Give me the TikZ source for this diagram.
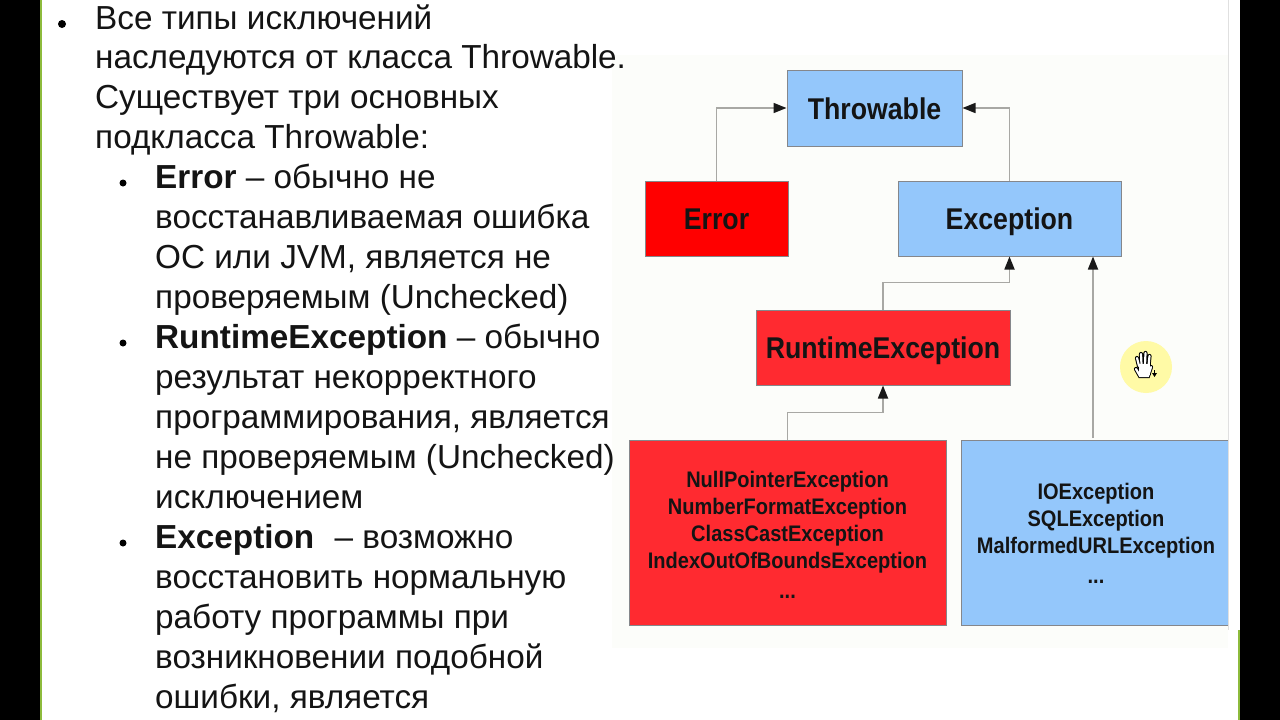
\documentclass[tikz,border=0pt]{standalone}
\usepackage{fontspec}
\setmainfont{Liberation Sans}
\newfontfamily\diagfont[FakeStretch=0.89]{Liberation Sans}
\usetikzlibrary{arrows.meta}
\definecolor{boxblue}{HTML}{94C7FB}
\definecolor{boxred}{HTML}{FF2A30}
\definecolor{pure}{HTML}{FF0000}
\definecolor{panel}{HTML}{FCFDFA}
\definecolor{edge}{HTML}{85878B}
\definecolor{wire}{HTML}{A8A8A4}
\definecolor{barg}{HTML}{8DBB3C}
\definecolor{ink}{HTML}{141414}
\tikzset{
  x=1pt,y=-1pt,
  txt/.style={anchor=base west,inner sep=0pt,yshift=-0.8pt,text=ink,font=\fontsize{33.3}{33.3}\selectfont},
  bigbox/.style={draw=edge,line width=1pt,inner sep=0pt,align=center,text=ink,text height=22pt,text depth=0pt,font=\diagfont\bfseries\fontsize{30}{30}\selectfont},
  grpbox/.style={draw=edge,line width=1pt,inner sep=0pt,align=center,text=ink,font=\diagfont\bfseries\fontsize{22.5}{27}\selectfont},
  conn/.style={draw=wire,line width=1.7pt,-{Triangle[length=13pt,width=10pt,color=black!90]}},
  bul/.style={circle,fill=black,inner sep=0pt,minimum size=#1},
}
\begin{document}
\begin{tikzpicture}
\useasboundingbox (0,0) rectangle (1280,720);
\fill[white] (0,0) rectangle (1280,720);
\fill[panel] (612,55) rectangle (1228,648);
\fill[black] (0,0) rectangle (40,720);
\fill[black] (1240,0) rectangle (1280,720);
\fill[barg] (40,0) rectangle (42,720);
\fill[barg] (1240,630) rectangle (1238,720);
\fill[black!12] (1227.5,0) rectangle (1229,630);

% text
\node[bul=8pt] (b1) at (62,24) {};
\node[txt] (t1) at (95,29) {Все типы исключений};
\node[txt] (t2) at (95,68) {наследуются от класса Throwable.};
\node[txt] (t3) at (95,108) {Существует три основных};
\node[txt] (t4) at (95,148) {подкласса Throwable:};
\node[bul=7pt] (b2) at (123,183) {};
\node[txt] (t5) at (155,188) {\textbf{Error} – обычно не};
\node[txt] (t6) at (155,228) {восстанавливаемая ошибка};
\node[txt] (t7) at (155,268) {ОС или JVM, является не};
\node[txt] (t8) at (155,308) {проверяемым (Unchecked)};
\node[bul=7pt] (b3) at (123,343) {};
\node[txt] (t9) at (155,348) {\textbf{RuntimeException} – обычно};
\node[txt] (t10) at (155,388) {результат некорректного};
\node[txt] (t11) at (155,428) {программирования, является};
\node[txt] (t12) at (155,468) {не проверяемым (Unchecked)};
\node[txt] (t13) at (155,508) {исключением};
\node[bul=7pt] (b4) at (123,543) {};
\node[txt] (t14) at (155,548) {\textbf{Exception}\, \,– возможно};
\node[txt] (t15) at (155,588) {восстановить нормальную};
\node[txt] (t16) at (155,628) {работу программы при};
\node[txt] (t17) at (155,668) {возникновении подобной};
\node[txt] (t18) at (155,708) {ошибки, является};

% diagram
\node[bigbox,fill=boxblue,minimum width=175pt,minimum height=76pt] (thr) at (874.5,108) {Throwable};
\node[bigbox,fill=pure,minimum width=143pt,minimum height=75pt] (err) at (716.5,218.5) {Error};
\node[bigbox,fill=boxblue,minimum width=223pt,minimum height=75pt] (exc) at (1009.5,218.5) {Exception};
\node[bigbox,fill=boxred,minimum width=254pt,minimum height=75pt] (run) at (883,347.5) {RuntimeException};
\node[grpbox,fill=boxred,minimum width=317pt,minimum height=185pt] (unc) at (787.5,532.5) {\rule{0pt}{21.5pt}NullPointerException\\NumberFormatException\\ClassCastException\\IndexOutOfBoundsException\\[3pt]...};
\node[grpbox,fill=boxblue,minimum width=270pt,minimum height=185pt] (chk) at (1096,532.5) {\rule{0pt}{18.5pt}IOException\\SQLException\\MalformedURLException\\[3pt]...};
\fill[white] (1228,436) rectangle (1238,640);
\fill[black!12] (1227.5,436) rectangle (1229,630);

\draw[conn] (err.north) |- (thr.west);
\draw[conn] (exc.north) |- (thr.east);
\draw[conn] (run.north) -- ++(0,-27) -| (exc.south);
\draw[conn] (unc.north) -- ++(0,-27) -| (run.south);
\coordinate (chktop) at (1093,438);
\draw[conn] (chktop) -- (chktop |- exc.south);

% pointer highlight
\fill[yellow!35!white] (1146,367) ellipse [x radius=26,y radius=26];
\begin{scope}[line cap=round]
  \draw[black,line width=4.2pt] (1139,366) -- (1137,358) (1141.5,365) -- (1141,354) (1145,365) -- (1145.5,353) (1148.5,366) -- (1149.5,356) (1136,369) -- (1140,376) -- (1148,376) -- (1151,367);
  \fill[black] (1138,362) rectangle (1151,375);
  \draw[white,line width=2.2pt] (1139,366) -- (1137,358) (1141.5,365) -- (1141,354) (1145,365) -- (1145.5,353) (1148.5,366) -- (1149.5,356) (1136,369) -- (1140,376) -- (1148,376) -- (1151,367);
  \fill[white] (1139,364) rectangle (1150,375);
\end{scope}
\fill[black] (1152,373) -- (1157,373) -- (1154.5,377) -- cycle;
\draw[black,line width=.8pt] (1154.5,370) -- (1154.5,374);
\end{tikzpicture}
\end{document}
